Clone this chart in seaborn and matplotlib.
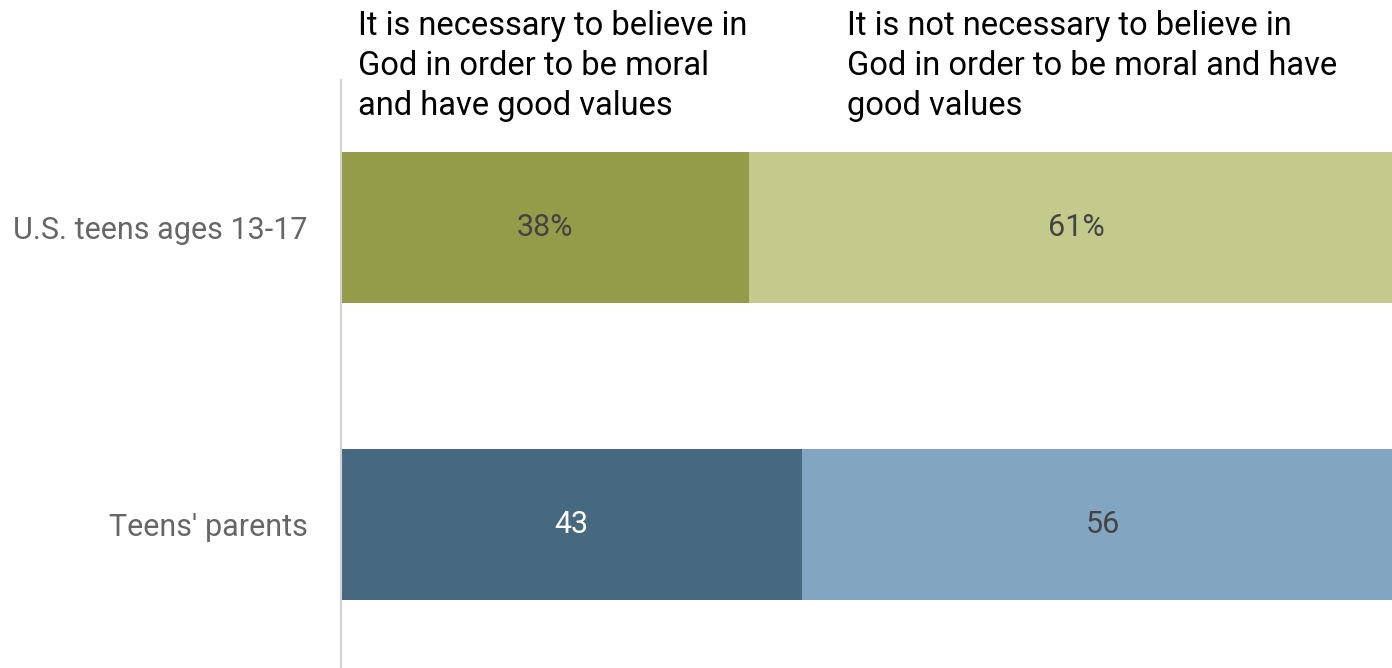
import matplotlib
matplotlib.use("Agg")
import matplotlib.pyplot as plt
import seaborn as sns
import pandas as pd

categories = ["U.S. teens ages 13-17", "Teens' parents"]
necessary = [38, 43]
not_necessary = [61, 56]
necessary_labels = ["38%", "43"]
not_necessary_labels = ["61%", "56"]
header_left = "It is necessary to believe in\nGod in order to be moral\nand have good values"
header_right = "It is not necessary to believe in\nGod in order to be moral and have\ngood values"

dark_colors = ["#949C4A", "#46697F"]
light_colors = ["#C4CA8C", "#82A6C1"]
dark_text = ["#444444", "#FFFFFF"]
light_text = ["#444444", "#444444"]

sns.set_theme(style="white")
plt.rcParams["font.family"] = ["Roboto", "DejaVu Sans"]

df = pd.DataFrame({
    "category": categories,
    "necessary": necessary,
    "total": [a + b for a, b in zip(necessary, not_necessary)],
})

fig = plt.figure(figsize=(13.92, 6.68), dpi=100)
ax = fig.add_axes([341 / 1392, 0.0, 1 - 341 / 1392, (668 - 80) / 668])

sns.barplot(data=df, x="total", y="category", hue="category", palette=light_colors,
            orient="h", width=0.508, legend=False, ax=ax, saturation=1, linewidth=0)
sns.barplot(data=df, x="necessary", y="category", hue="category", palette=dark_colors,
            orient="h", width=0.508, legend=False, ax=ax, saturation=1, linewidth=0)

ax.set_xlim(0, 97.95)
ax.set_ylim(1.483, -0.497)
ax.set_xlabel("")
ax.set_ylabel("")
ax.set_xticks([])
for s in ["top", "right", "bottom"]:
    ax.spines[s].set_visible(False)
ax.spines["left"].set_color("#D0D0D0")
ax.spines["left"].set_linewidth(1.5)
ax.tick_params(axis="y", length=0, pad=24, labelsize=22, labelcolor="#666666")

for i in range(len(categories)):
    ax.text(necessary[i] / 2, i, necessary_labels[i], ha="center", va="center",
            fontsize=22, color=dark_text[i])
    ax.text(necessary[i] + not_necessary[i] / 2, i, not_necessary_labels[i],
            ha="center", va="center", fontsize=22, color=light_text[i])

fig.text(358 / 1392, 1 - 10 / 668, header_left, ha="left", va="top",
         fontsize=23.5, color="#000000", linespacing=1.33)
fig.text(847 / 1392, 1 - 10 / 668, header_right, ha="left", va="top",
         fontsize=23.5, color="#000000", linespacing=1.33)

fig.savefig("out.png", dpi=100)
